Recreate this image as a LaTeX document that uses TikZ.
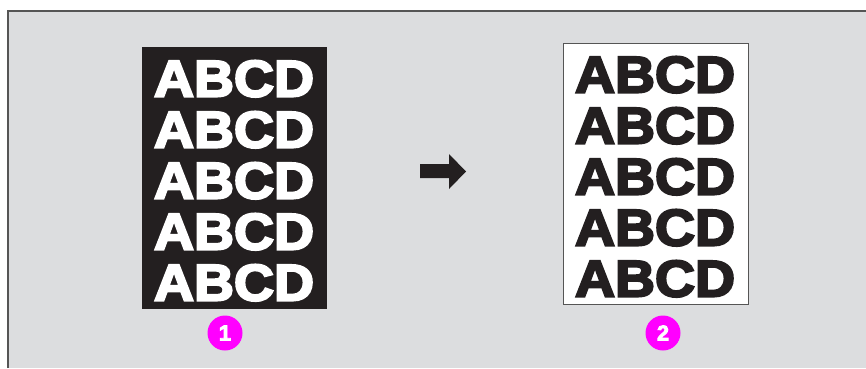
\documentclass[tikz,border=0pt]{standalone}
\usepackage{fontspec}
\setmainfont{Liberation Sans}
\newfontfamily\heavyfont{Liberation Sans}[BoldFeatures={FakeBold=4}]
\usepackage{graphicx}
\definecolor{bg}{HTML}{DCDDDF}
\definecolor{ink}{HTML}{231F20}
\definecolor{frameline}{HTML}{555555}
\definecolor{badge}{HTML}{FF00FF}
\tikzset{
  rowtxt/.style={anchor=south west, inner sep=0pt, outer sep=0pt},
  badgenode/.style={circle, fill=badge, minimum size=35pt, inner sep=0pt, text=white},
}
\newcommand{\abcdrow}{\resizebox{160pt}{36pt}{\heavyfont\bfseries ABCD}}
\newcommand{\badgedigit}[1]{\resizebox{!}{15pt}{\heavyfont\bfseries #1}}
\begin{document}
\begin{tikzpicture}[x=1pt,y=-1pt]
\useasboundingbox (0,0) rectangle (866,368);
\fill[white] (0,0) rectangle (866,368);
\fill[bg] (8,11) rectangle (866,368);
\draw[frameline, line width=1.5pt] (8,368) -- (8,11) -- (866,11);
% dark sheet
\node[fill=ink, draw=none, minimum width=185pt, minimum height=262pt, inner sep=0pt, anchor=north west] (dark) at (142,47) {};
\foreach \yy in {97,148,199,250,301}{
  \node[rowtxt, text=white] at (154,\yy) {\abcdrow};
}
% white sheet
\node[fill=white, draw=frameline, line width=0.8pt, minimum width=185pt, minimum height=261pt, inner sep=0pt, anchor=north west] (light) at (563,43) {};
\foreach \yy in {93,144,195,246,297}{
  \node[rowtxt, text=ink] at (575,\yy) {\abcdrow};
}
% arrow
\node[inner sep=0pt, minimum size=0pt] (arr) at (443,171) {};
\fill[ink] (420,164) -- (449,164) -- (449,154) -- (466,171.5) -- (449,189) -- (449,178) -- (420,178) -- cycle;
% badges
\node[badgenode] (b1) at (225,333) {\badgedigit{1}};
\node[badgenode] (b2) at (663,333) {\badgedigit{2}};
\end{tikzpicture}
\end{document}
